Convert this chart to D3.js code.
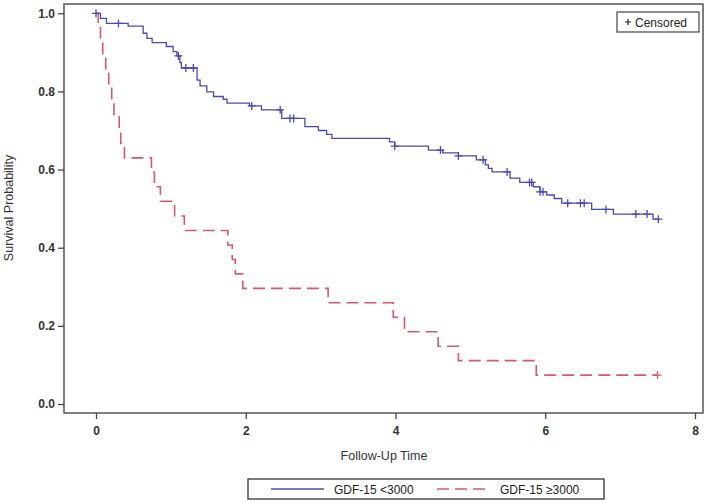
<!DOCTYPE html>
<html><head><meta charset="utf-8">
<script src="https://cdn.jsdelivr.net/npm/d3@7"></script>
<style>body{margin:0;background:#fff}svg{display:block}text{font-family:"Liberation Sans",Arial,sans-serif}</style>
</head><body>
<script>
// Kaplan-Meier step data (time, survival)
const lowTimes = [0,0.06,0.14,0.43,0.63,0.68,0.75,0.94,1.03,1.08,1.12,1.14,1.35,1.39,1.48,1.57,1.70,1.75,2.05,2.21,2.48,2.79,2.97,3.08,3.15,3.92,3.99,4.44,4.63,4.84,5.08,5.20,5.24,5.29,5.53,5.66,5.84,5.93,6.02,6.12,6.22,6.62,6.91,7.44];
const lowSurv  = [1.0,0.987,0.974,0.967,0.949,0.936,0.925,0.915,0.902,0.891,0.874,0.860,0.829,0.814,0.799,0.787,0.780,0.770,0.763,0.753,0.731,0.710,0.700,0.690,0.680,0.671,0.660,0.650,0.643,0.635,0.625,0.612,0.603,0.594,0.578,0.567,0.556,0.543,0.535,0.526,0.514,0.498,0.486,0.473];
const lowEnd = 7.51;
const lowCensor = [0,0.30,1.10,1.20,1.30,2.08,2.46,2.59,2.64,3.99,4.60,4.84,5.17,5.49,5.79,5.82,5.93,5.97,6.30,6.47,6.52,6.81,7.21,7.36,7.51];

const highTimes = [0,0.03,0.06,0.09,0.13,0.17,0.21,0.24,0.31,0.33,0.38,0.74,0.78,0.86,1.05,1.18,1.76,1.82,1.86,1.96,3.10,3.97,4.12,4.57,4.84,5.88];
const highSurv  = [1.0,0.963,0.926,0.889,0.852,0.815,0.778,0.741,0.704,0.667,0.630,0.593,0.556,0.519,0.481,0.444,0.407,0.370,0.333,0.296,0.259,0.222,0.185,0.148,0.111,0.074];
const highEnd = 7.50;
const highCensor = [7.50];

const xTicks = [0,2,4,6,8];
const yTicks = [0,0.2,0.4,0.6,0.8,1.0];
const seriesNames = ["GDF-15 <3000","GDF-15 \u22653000"];
const colors = ["#4a4ab4","#d45a6a"];

const W=709,H=503;
const svg=d3.select("body").append("svg").attr("width",W).attr("height",H);
const L=64,R=703,T=4,B=413;
const x=d3.scaleLinear().domain([0,8]).range([96,695]);
const y=d3.scaleLinear().domain([0,1]).range([404,13.3]);

svg.append("rect").attr("x",L).attr("y",T).attr("width",R-L).attr("height",B-T)
  .attr("fill","none").attr("stroke","#555").attr("stroke-width",1.5);

// axes
const xa=svg.append("g").attr("transform",`translate(0,${B})`)
  .call(d3.axisBottom(x).tickValues(xTicks).tickSize(6).tickFormat(d3.format("d")));
const ya=svg.append("g").attr("transform",`translate(${L},0)`)
  .call(d3.axisLeft(y).tickValues(yTicks).tickSize(6).tickFormat(d3.format(".1f")));
[xa,ya].forEach(g=>{g.select(".domain").remove();
  g.selectAll("line").attr("stroke","#444").attr("stroke-width",1.3);
  g.selectAll("text").attr("fill","#333").style("font-size","12px").style("font-weight","bold").style("font-family","'Liberation Sans',Arial,sans-serif");});
xa.selectAll("text").attr("dy","1.1em");

svg.append("text").attr("x",384).attr("y",460).attr("text-anchor","middle")
  .attr("fill","#333").style("font-size","12.5px").text("Follow-Up Time");
svg.append("text").attr("transform","translate(13,208) rotate(-90)").attr("text-anchor","middle")
  .attr("fill","#333").style("font-size","12.5px").text("Survival Probability");

function stepPath(times,surv,end){
  const pts=times.map((t,i)=>[t,surv[i]]);pts.push([end,surv[surv.length-1]]);
  return d3.line().x(d=>x(d[0])).y(d=>y(d[1])).curve(d3.curveStepAfter)(pts);
}
function survAt(times,surv,t){let s=surv[0];for(let i=0;i<times.length;i++){if(times[i]<=t)s=surv[i];}return s;}

svg.append("path").attr("d",stepPath(lowTimes,lowSurv,lowEnd)).attr("fill","none")
  .attr("stroke",colors[0]).attr("stroke-width",1.3);
svg.append("path").attr("d",stepPath(highTimes,highSurv,highEnd)).attr("fill","none")
  .attr("stroke",colors[1]).attr("stroke-width",1.6).attr("stroke-dasharray","12,6");

function censor(times,st,sv,col){
  svg.append("g").selectAll("path").data(times).join("path")
    .attr("d",t=>{const cx=x(t),cy=y(survAt(st,sv,t));return `M${cx-4},${cy}H${cx+4}M${cx},${cy-4}V${cy+4}`;})
    .attr("stroke",col).attr("stroke-width",1.3).attr("fill","none");
}
censor(lowCensor,lowTimes,lowSurv,colors[0]);
censor(highCensor,highTimes,highSurv,colors[1]);

// censored inset legend
svg.append("rect").attr("x",617).attr("y",12).attr("width",82).attr("height",20)
  .attr("fill","#fff").attr("stroke","#444").attr("stroke-width",1.2);
svg.append("path").attr("d","M625,22H631M628,19V25").attr("stroke","#222").attr("stroke-width",1.2);
svg.append("text").attr("x",635).attr("y",26.5).attr("fill","#222").style("font-size","12px").text("Censored");

// bottom legend
svg.append("rect").attr("x",248).attr("y",479).attr("width",356).attr("height",20)
  .attr("fill","#fff").attr("stroke","#333").attr("stroke-width",1.3);
svg.append("line").attr("x1",271).attr("x2",324).attr("y1",489).attr("y2",489).attr("stroke",colors[0]).attr("stroke-width",1.3);
svg.append("text").attr("x",334).attr("y",493.5).attr("fill","#222").style("font-size","12px").text(seriesNames[0]);
svg.append("line").attr("x1",437).attr("x2",490).attr("y1",489).attr("y2",489).attr("stroke",colors[1]).attr("stroke-width",1.6).attr("stroke-dasharray","12,6");
svg.append("text").attr("x",500).attr("y",493.5).attr("fill","#222").style("font-size","12px").text(seriesNames[1]);
</script>
</body></html>
